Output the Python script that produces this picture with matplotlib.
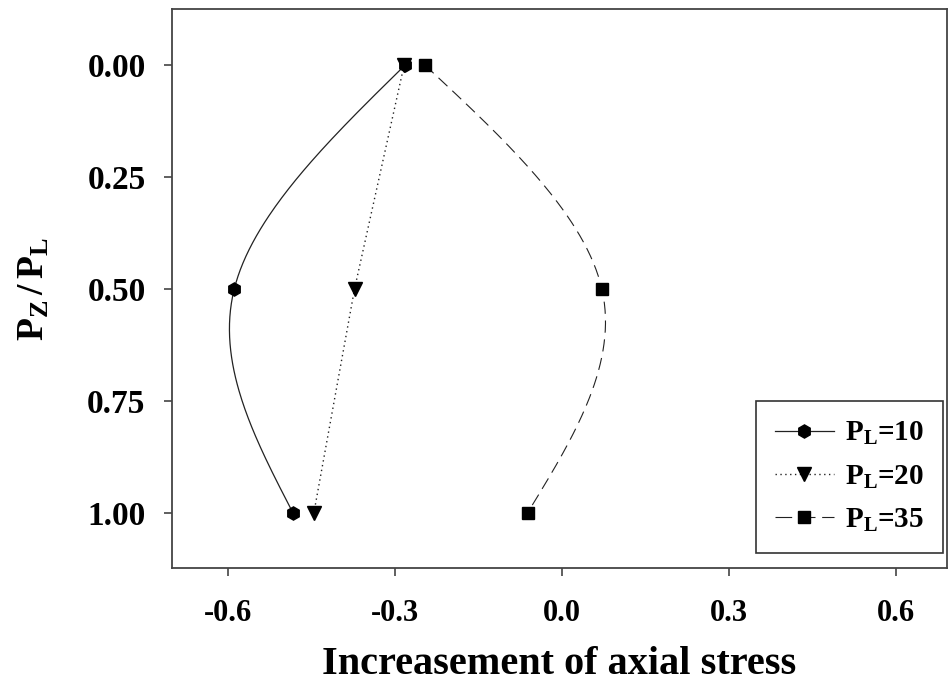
import numpy as np
import matplotlib
matplotlib.use('Agg')
import matplotlib.pyplot as plt

plt.rcParams['font.family'] = ['Liberation Serif', 'DejaVu Serif']
plt.rcParams['font.weight'] = 'bold'
plt.rcParams['mathtext.fontset'] = 'custom'
plt.rcParams['mathtext.rm'] = 'Liberation Serif:bold'
plt.rcParams['mathtext.it'] = 'Liberation Serif:bold'
plt.rcParams['mathtext.bf'] = 'Liberation Serif:bold'

# depth ratio Pz/PL and axial stress increase for each load level
depth = [0.0, 0.5, 1.0]
stress_pl10 = [-0.281, -0.588, -0.483]
stress_pl20 = [-0.283, -0.372, -0.445]
stress_pl35 = [-0.246, 0.072, -0.061]

xticks = [-0.6, -0.3, 0.0, 0.3, 0.6]
yticks = [0.0, 0.25, 0.5, 0.75, 1.0]


def natural_spline(y, x, n=200):
    # natural cubic spline x(y) through the data points
    y = np.asarray(y, float)
    x = np.asarray(x, float)
    m = len(y)
    h = np.diff(y)
    A = np.zeros((m, m))
    r = np.zeros(m)
    A[0, 0] = A[-1, -1] = 1.0
    for i in range(1, m - 1):
        A[i, i - 1] = h[i - 1] / 6
        A[i, i] = (h[i - 1] + h[i]) / 3
        A[i, i + 1] = h[i] / 6
        r[i] = (x[i + 1] - x[i]) / h[i] - (x[i] - x[i - 1]) / h[i - 1]
    M = np.linalg.solve(A, r)
    yy = np.linspace(y[0], y[-1], n)
    k = np.clip(np.searchsorted(y, yy) - 1, 0, m - 2)
    a = y[k + 1] - yy
    b = yy - y[k]
    hk = h[k]
    xx = (M[k] * a**3 / (6 * hk) + M[k + 1] * b**3 / (6 * hk)
          + (x[k] / hk - M[k] * hk / 6) * a + (x[k + 1] / hk - M[k + 1] * hk / 6) * b)
    return xx, yy


fig = plt.figure(figsize=(9.49, 6.91), dpi=100)
ax = fig.add_axes([0.1812, 0.1773, 0.8167, 0.8097])

xs, ys = natural_spline(depth, stress_pl10)
ax.plot(xs, ys, '-', color='#222222', lw=0.9)
xs, ys = natural_spline(depth, stress_pl35)
ax.plot(xs, ys, color='#222222', lw=0.8, linestyle=(0, (11, 6)))
ax.plot(stress_pl20, depth, color='#222222', lw=1.0, linestyle=(0, (1, 2.5)))

ax.plot(stress_pl20, depth, 'v', color='black', ms=10, ls='none')
ax.plot(stress_pl35, depth, 's', color='black', ms=8.5, ls='none')
ax.plot(stress_pl10, depth, 'h', color='black', ms=9.5, ls='none')

# legend entries
h1, = ax.plot([], [], '-', color='#222222', lw=0.9, marker='h', ms=9.5, mfc='black', mec='black')
h2, = ax.plot([], [], color='#222222', lw=1.0, linestyle=(0, (1, 2.5)), marker='v', ms=10,
              mfc='black', mec='black')
h3, = ax.plot([], [], color='#222222', lw=0.8, linestyle=(0, (15, 6)), marker='s', ms=8.5,
              mfc='black', mec='black')
leg = ax.legend([h1, h2, h3], [r'$\mathregular{P_L}$=10', r'$\mathregular{P_L}$=20', r'$\mathregular{P_L}$=35'],
                loc='lower right', bbox_to_anchor=(0.995, 0.028), borderaxespad=0,
                fancybox=False, framealpha=1, edgecolor='#333333', fontsize=21,
                handlelength=2.0, handletextpad=0.4, labelspacing=0.55,
                borderpad=0.65)
leg.get_frame().set_linewidth(1.2)

ax.set_xlim(-0.7, 0.692)
ax.set_ylim(1.125, -0.125)
ax.set_xticks(xticks)
ax.set_xticklabels([f'{t:.1f}' for t in xticks])
ax.set_yticks(yticks)
ax.set_yticklabels([f'{t:.2f}' for t in yticks])

for s in ax.spines.values():
    s.set_color('#444444')
    s.set_linewidth(1.3)
ax.tick_params(axis='both', direction='out', length=6, width=1.2, color='#444444',
               top=False, right=False)
ax.tick_params(axis='x', pad=16, labelsize=22)
ax.tick_params(axis='y', pad=13, labelsize=24)

ax.set_xlabel('Increasement of axial stress', fontsize=29, fontweight='bold', labelpad=13)
ax.set_ylabel(r'$\mathregular{P_Z\,/\,P_L}$', fontsize=27, fontweight='bold')
ax.yaxis.set_label_coords(-0.155, 0.5)

fig.savefig('out.png', dpi=100)
